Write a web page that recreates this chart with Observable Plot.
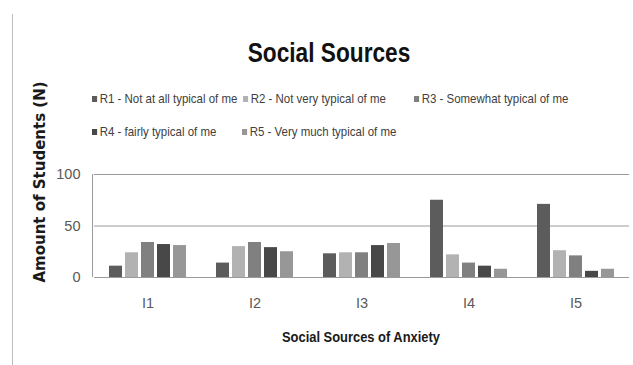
<!DOCTYPE html>
<html>
<head>
<meta charset="utf-8">
<script src="https://cdn.jsdelivr.net/npm/d3@7"></script>
<script src="https://cdn.jsdelivr.net/npm/@observablehq/plot@0.6"></script>
<style>
  html, body { margin: 0; padding: 0; background: #fff; }
  #wrap { position: relative; width: 633px; height: 365px; overflow: hidden; background: #fff;
          font-family: "Liberation Sans", Arial, sans-serif; }
  #border { position: absolute; left: 12px; top: 14px; height: 351px; border-left: 1px solid #bdbdbd; }
  #header { position: relative; width: 633px; height: 150px; }
  #title { position: absolute; left: 0; width: 658px; top: 33px; text-align: center;
           font-weight: bold; font-size: 28px; color: #111; line-height: 40px;
           transform: scaleX(0.81); transform-origin: 50% 50%; }
  .leg { position: absolute; font-size: 13.5px; color: #404040; line-height: 16px; white-space: nowrap;
         transform: scaleX(0.85); transform-origin: 0 50%; }
  .sw { display: inline-block; width: 6px; height: 6px; margin-right: 3px; vertical-align: 1px; }
  #xlabel { position: absolute; left: 0; width: 722px; top: 327px; text-align: center;
            font-weight: bold; font-size: 15px; color: #1a1a1a; line-height: 20px;
            transform: scaleX(0.86); transform-origin: 50% 50%; }
  #chart { position: absolute; left: 0; top: 150px; }
</style>
</head>
<body>
<div id="wrap">
  <div id="border"></div>
  <div id="header">
    <div id="title"></div>
  </div>
  <div id="chart"></div>
  <div id="xlabel"></div>
</div>
<script>
const titleText = "Social Sources";
const xTitle = "Social Sources of Anxiety";
const yTitle = "Amount of Students (N)";
const categories = ["I1", "I2", "I3", "I4", "I5"];
const seriesNames = [
  "R1 - Not at all typical of me",
  "R2 - Not very typical of me",
  "R3 - Somewhat typical of me",
  "R4 - fairly typical of me",
  "R5 - Very much typical of me"
];
const R1 = [11, 14, 23, 75, 71];
const R2 = [24, 30, 24, 22, 26];
const R3 = [34, 34, 24, 14, 21];
const R4 = [32, 29, 31, 11, 6];
const R5 = [31, 25, 33, 8, 8];
const seriesValues = [R1, R2, R3, R4, R5];
const colors = ["#5c5c5c", "#b2b2b2", "#808080", "#484848", "#979797"];
const yTicks = [0, 50, 100];

// Build the table
const rows = [];
categories.forEach((c, i) => {
  seriesNames.forEach((s, j) => rows.push({cat: c, series: s, value: seriesValues[j][i]}));
});

document.getElementById("title").textContent = titleText;
document.getElementById("xlabel").textContent = xTitle;

// Legend (two rows)
const legendPos = [[92, 91], [243, 91], [414, 91], [92, 124], [242, 124]];
const header = document.getElementById("header");
seriesNames.forEach((s, j) => {
  const d = document.createElement("div");
  d.className = "leg";
  d.style.left = legendPos[j][0] + "px";
  d.style.top = legendPos[j][1] + "px";
  const sw = document.createElement("span");
  sw.className = "sw";
  sw.style.background = colors[j];
  d.appendChild(sw);
  d.appendChild(document.createTextNode(s));
  header.appendChild(d);
});

const marginLeft = 92, marginTop = 24, marginBottom = 48;
const chart = Plot.plot({
  width: 633,
  height: 175,
  marginLeft,
  marginRight: 2,
  marginTop,
  marginBottom,
  style: {fontFamily: '"Liberation Sans", Arial, sans-serif', overflow: "visible", background: "transparent"},
  fx: {domain: categories, padding: 0, label: null, tickSize: 0, tickPadding: 20},
  x: {domain: seriesNames, axis: null, paddingInner: 0.21, paddingOuter: 0.87},
  y: {domain: [0, 100], ticks: yTicks, tickSize: 0, tickPadding: 14, label: null},
  color: {domain: seriesNames, range: colors},
  marks: [
    Plot.ruleY(yTicks, {stroke: "#9a9a9a", strokeWidth: 1}),
    Plot.barY(rows, {fx: "cat", x: "series", y: "value", fill: "series"}),
    Plot.text([{cat: categories[0], t: yTitle}], {
      fx: "cat", text: "t", frameAnchor: "left", rotate: -90, dx: -54, dy: -44,
      fontFamily: '"DejaVu Sans", sans-serif', fontWeight: "bold", fontSize: 15, fill: "#1a1a1a",
      textAnchor: "middle", lineAnchor: "middle"
    })
  ]
});
document.getElementById("chart").appendChild(chart);

// style tick labels
d3.select(chart).selectAll('g[aria-label="y-axis tick label"], g[aria-label="fx-axis tick label"]')
  .attr("font-size", 14.5).attr("fill", "#595959");
d3.select(chart).selectAll('g[aria-label="y-axis tick label"] text, g[aria-label="fx-axis tick label"] text')
  .style("font-size", "14.5px").style("fill", "#595959");

// left axis line through the y scale
const ys = chart.scale("y");
d3.select(chart).append("line")
  .attr("x1", marginLeft + 0.5).attr("x2", marginLeft + 0.5)
  .attr("y1", ys.apply(yTicks[0])).attr("y2", ys.apply(yTicks[yTicks.length - 1]))
  .attr("stroke", "#9a9a9a");
</script>
</body>
</html>
